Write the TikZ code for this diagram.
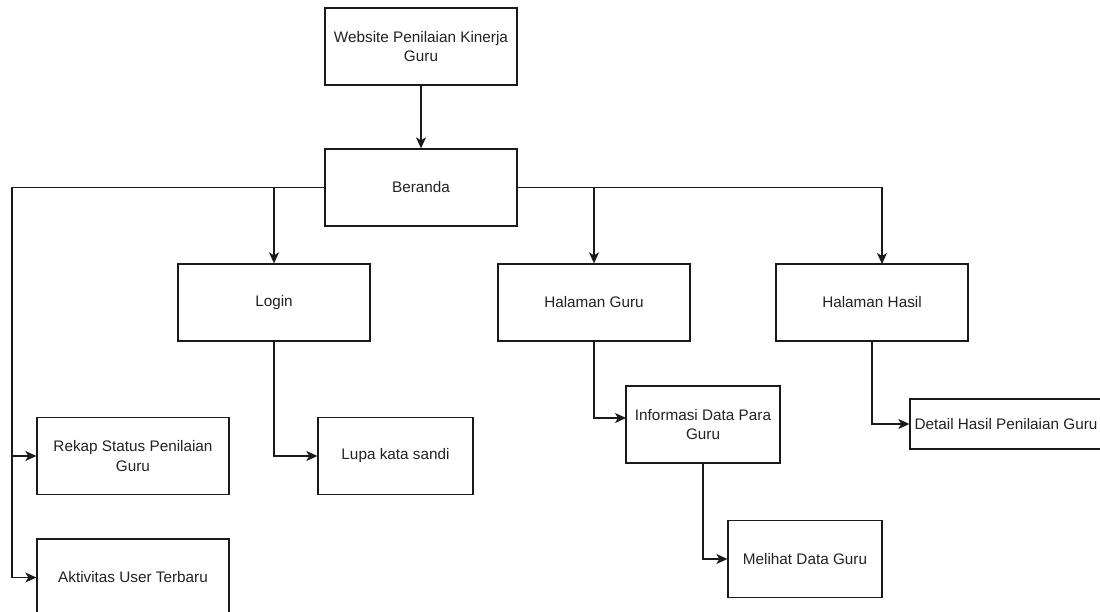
\documentclass[tikz,border=0pt]{standalone}
\usepackage{fontspec}
\setmainfont{Liberation Sans}
\usetikzlibrary{arrows.meta,calc}
\definecolor{ink}{HTML}{1A1A1A}
\definecolor{txt}{HTML}{222222}
\begin{document}
\begin{tikzpicture}[x=1pt,y=-1pt,
  box/.style={draw=ink,line width=1.3pt,fill=white,rectangle,inner sep=0pt,
    minimum width=192pt,minimum height=77pt,align=center,text=txt,
    font=\fontsize{15.3}{19.5}\selectfont},
  link/.style={draw=ink,line width=1.3pt},
  arr/.style={link,-{Stealth[length=11pt,width=10pt,inset=3pt]}}]
\useasboundingbox (0,0) rectangle (1100,612);
\begin{scope}
\clip (0,0) rectangle (1100,612);

% boxes
\node[box] (web) at (421,46.5) {Website Penilaian Kinerja\\Guru};
\node[box] (beranda) at (421,187.5) {Beranda};
\node[box] (login) at (274,302.5) {Login};
\node[box] (hguru) at (594,302.5) {Halaman Guru};
\node[box] (hhasil) at (872,302.5) {Halaman Hasil};
\node[box] (rekap) at (133,456) {Rekap Status Penilaian\\Guru};
\node[box] (aktiv) at (133,577.5) {Aktivitas User Terbaru};
\node[box,minimum width=155pt] (lupa) at (395.5,456) {Lupa kata sandi};
\node[box,minimum width=154pt] (info) at (703,424.5) {Informasi Data Para\\Guru};
\node[box,minimum width=154pt] (melihat) at (805,559) {Melihat Data Guru};
\node[box,minimum height=50pt] (detail) at (1006,424) {Detail Hasil Penilaian Guru};

% routing points
\coordinate (lbus) at (12,187.5);
\coordinate (hasilin) at (882,264);
\coordinate (infoin) at (626,418);

% connectors
\draw[arr] (web) -- (beranda);
\draw[link] (beranda.west) -- (lbus);
\draw[arr] (lbus) |- (rekap.west);
\draw[arr] (lbus) |- (aktiv.west);
\draw[arr] (login.north |- beranda.west) -- (login.north);
\draw[arr] (beranda.east) -| (hasilin);
\draw[arr] (hguru.north |- beranda.east) -- (hguru.north);
\draw[arr] (login.south) |- (lupa.west);
\draw[arr] (hguru.south) |- (infoin);
\draw[arr] (info.south) |- (melihat.west);
\draw[arr] (hhasil.south) |- (detail.west);
\end{scope}
\end{tikzpicture}
\end{document}
